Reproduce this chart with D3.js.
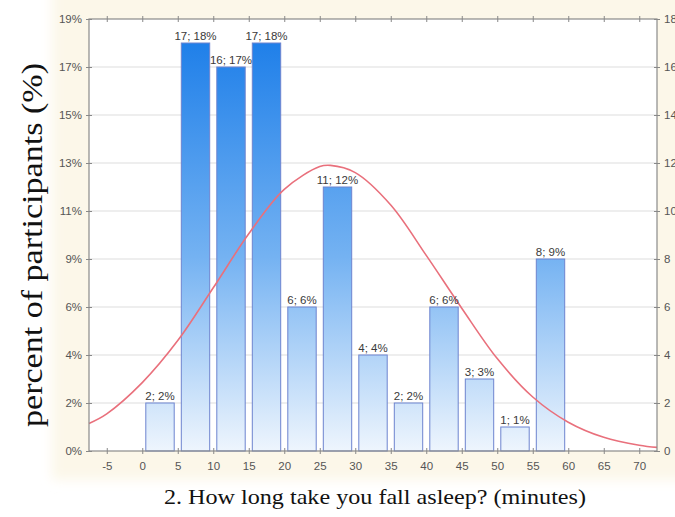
<!DOCTYPE html>
<html>
<head>
<meta charset="utf-8">
<script src="https://cdn.jsdelivr.net/npm/d3@7"></script>
<style>
  html, body { margin: 0; padding: 0; background: #ffffff; }
  svg { display: block; }
</style>
</head>
<body>
<div id="chart"></div>
<script>
// ---------- data ----------
const binStarts = [0, 5, 10, 15, 20, 25, 30, 35, 40, 45, 50, 55];
const binWidth = 5;
const counts = [2, 17, 16, 17, 6, 11, 4, 2, 6, 3, 1, 8];
const percents = [2, 18, 17, 18, 6, 12, 4, 2, 6, 3, 1, 9];
const xTicks = [-5, 0, 5, 10, 15, 20, 25, 30, 35, 40, 45, 50, 55, 60, 65, 70];
const countTicks = [0, 2, 4, 6, 8, 10, 12, 14, 16, 18];
const percentTickLabels = ["0%", "2%", "4%", "6%", "9%", "11%", "13%", "15%", "17%", "19%"];
// fitted normal curve (x in minutes, y in counts)
const curveX = [-7.5, -5, 0, 5, 10, 15, 20, 25, 26.5, 30, 35, 40, 45, 50, 55, 60, 65, 70, 72.5];
const curveY = [1.15, 1.55, 2.85, 4.6, 6.8, 9.05, 10.9, 11.85, 11.9, 11.6, 10.25, 8.15, 5.95, 3.85, 2.25, 1.2, 0.57, 0.24, 0.15];
const xTitle = "2. How long take you fall asleep? (minutes)";
const yTitle = "percent of participants (%)";

// ---------- layout ----------
const W = 675, H = 517;
const L = 89, R = 657, T = 19, B = 451;

const svg = d3.select("#chart").append("svg").attr("width", W).attr("height", H);
const defs = svg.append("defs");

const blur = defs.append("filter").attr("id", "soft").attr("x", "-5%").attr("y", "-5%").attr("width", "110%").attr("height", "110%");
blur.append("feGaussianBlur").attr("stdDeviation", 6);

const x = d3.scaleLinear().domain([-7.5, 72.5]).range([L, R]);
const y = d3.scaleLinear().domain([0, 18]).range([B, T]);

// beige background behind the chart
svg.append("rect").attr("x", 52).attr("y", -20).attr("width", 660).attr("height", 500)
  .attr("fill", "#fcf7e9").attr("filter", "url(#soft)");

// plot area
svg.append("rect").attr("x", L).attr("y", T).attr("width", R - L).attr("height", B - T).attr("fill", "#ffffff");

// gridlines
svg.append("g").selectAll("line").data(countTicks.slice(1, -1)).join("line")
  .attr("x1", L).attr("x2", R).attr("y1", d => y(d)).attr("y2", d => y(d))
  .attr("stroke", "#e9e9e9").attr("stroke-width", 1.5);

// gradient for bars (relative to plot)
const grad = defs.append("linearGradient").attr("id", "barGrad")
  .attr("gradientUnits", "userSpaceOnUse").attr("x1", 0).attr("x2", 0).attr("y1", T).attr("y2", B);
grad.append("stop").attr("offset", "0%").attr("stop-color", "#167ae8");
grad.append("stop").attr("offset", "55%").attr("stop-color", "#74b2f2");
grad.append("stop").attr("offset", "100%").attr("stop-color", "#eef5fd");

const bars = binStarts.map((s, i) => ({ s, c: counts[i], p: percents[i] }));

svg.append("g").selectAll("rect").data(bars).join("rect")
  .attr("x", d => x(d.s + 0.5))
  .attr("width", d => x(d.s + binWidth - 0.5) - x(d.s + 0.5))
  .attr("y", d => y(d.c))
  .attr("height", d => y(0) - y(d.c))
  .attr("fill", "url(#barGrad)")
  .attr("stroke", "#6d84cf").attr("stroke-width", 1);

// normal curve
const pts = curveX.map((v, i) => [v, curveY[i]]);
svg.append("path").datum(pts)
  .attr("d", d3.line().x(d => x(d[0])).y(d => y(d[1])).curve(d3.curveCatmullRom))
  .attr("fill", "none").attr("stroke", "#e9707c").attr("stroke-width", 1.6);

// bar labels
svg.append("g").selectAll("text").data(bars).join("text")
  .attr("x", d => x(d.s + binWidth / 2))
  .attr("y", d => y(d.c) - 3)
  .attr("text-anchor", "middle")
  .attr("font-family", "Liberation Sans, Arial, sans-serif")
  .attr("font-size", 11.5).attr("fill", "#3a3a3a")
  .text(d => `${d.c}; ${d.p}%`);

// frame
svg.append("rect").attr("x", L).attr("y", T).attr("width", R - L).attr("height", B - T)
  .attr("fill", "none").attr("stroke", "#8a8a8a").attr("stroke-width", 1.2);

// axes
const tickFont = g => g.selectAll("text")
  .attr("font-family", "Liberation Sans, Arial, sans-serif")
  .attr("font-size", 11.5).attr("fill", "#555");

const xAxis = svg.append("g").attr("transform", `translate(0,${B})`)
  .call(d3.axisBottom(x).tickValues(xTicks).tickSize(3).tickPadding(8).tickFormat(d => String(d)));
xAxis.call(tickFont);
xAxis.select(".domain").remove();
xAxis.selectAll("line").attr("stroke", "#888").attr("y1", -3);

const xTop = svg.append("g").attr("transform", `translate(0,${T})`)
  .call(d3.axisTop(x).tickValues(xTicks).tickSize(3).tickFormat(""));
xTop.select(".domain").remove();
xTop.selectAll("line").attr("stroke", "#888").attr("y1", 3);

const yLeft = svg.append("g").attr("transform", `translate(${L},0)`)
  .call(d3.axisLeft(y).tickValues(countTicks).tickSize(3).tickPadding(4)
    .tickFormat((d, i) => percentTickLabels[i]));
yLeft.call(tickFont);
yLeft.select(".domain").remove();
yLeft.selectAll("line").attr("stroke", "#888").attr("x1", 3);

const yRight = svg.append("g").attr("transform", `translate(${R},0)`)
  .call(d3.axisRight(y).tickValues(countTicks).tickSize(3).tickPadding(4).tickFormat(d => String(d)));
yRight.call(tickFont);
yRight.select(".domain").remove();
yRight.selectAll("line").attr("stroke", "#888").attr("x1", -3);

// titles
svg.append("text")
  .attr("transform", `translate(42,245) rotate(-90)`)
  .attr("text-anchor", "middle")
  .attr("font-family", "Liberation Serif, Times New Roman, serif")
  .attr("font-size", 30).attr("fill", "#111")
  .attr("textLength", 364).attr("lengthAdjust", "spacingAndGlyphs")
  .text(yTitle);

svg.append("text")
  .attr("x", 375).attr("y", 504)
  .attr("text-anchor", "middle")
  .attr("font-family", "Liberation Serif, Times New Roman, serif")
  .attr("font-size", 21).attr("fill", "#111")
  .attr("textLength", 422).attr("lengthAdjust", "spacingAndGlyphs")
  .text(xTitle);
</script>
</body>
</html>
